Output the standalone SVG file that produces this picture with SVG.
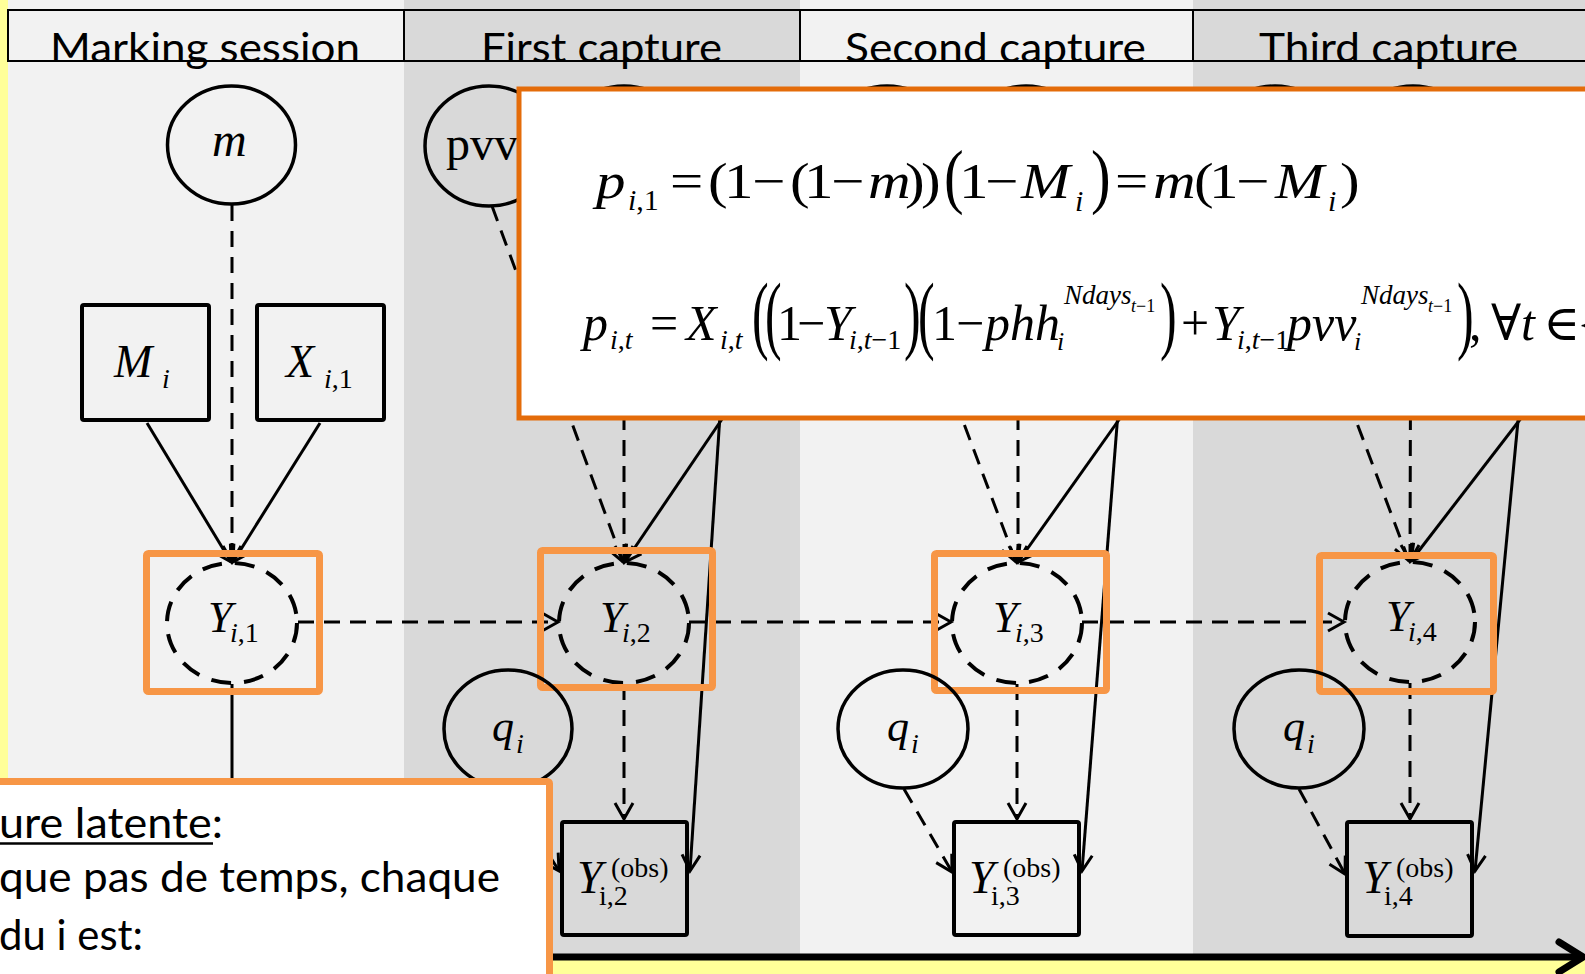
<svg xmlns="http://www.w3.org/2000/svg" width="1585" height="974" viewBox="0 0 1585 974">
  <defs>
    <style>
      .bgl { fill: #f2f2f2; }
      .bgd { fill: #d9d9d9; }
      .hdr { font-family: Lato, "Liberation Sans", sans-serif; font-size: 40px; fill: #000; }
      .body { font-family: Lato, "Liberation Sans", sans-serif; font-size: 43px; fill: #000; }
      .math { font-family: "Liberation Serif", "DejaVu Serif", serif; fill: #000; }
      .it { font-style: italic; }
      .node { fill: none; stroke: #000; stroke-width: 3.5; }
      .lat { fill: none; stroke: #000; stroke-width: 4; stroke-dasharray: 20 13; }
      .box { fill: none; stroke: #000; stroke-width: 4; }
      .hl { fill: none; stroke: #f79646; stroke-width: 7; }
      .solid { fill: none; stroke: #000; stroke-width: 3; }
      .dash { fill: none; stroke: #000; stroke-width: 3; stroke-dasharray: 16 10; }
    </style>
    <marker id="arr" viewBox="-20 -12 24 24" refX="0" refY="0" markerWidth="24" markerHeight="24" markerUnits="userSpaceOnUse" orient="auto">
      <path d="M-16,-9 L0,0 L-16,9" fill="none" stroke="#000" stroke-width="3"/>
    </marker>
  </defs>

  <!-- page and time columns -->
  <rect x="0" y="0" width="1585" height="974" fill="#ffff99"/>
  <rect class="bgl" x="8" y="0" width="396" height="957"/>
  <rect class="bgd" x="404" y="0" width="396" height="957"/>
  <rect class="bgl" x="800" y="0" width="393" height="957"/>
  <rect class="bgd" x="1193" y="0" width="392" height="957"/>

  <!-- column headers -->
  <g id="headers">
    <rect x="8" y="10" width="1590" height="51" fill="none" stroke="#000" stroke-width="2"/>
    <line x1="404" y1="10" x2="404" y2="61" stroke="#000" stroke-width="2"/>
    <line x1="800" y1="10" x2="800" y2="61" stroke="#000" stroke-width="2"/>
    <line x1="1193" y1="10" x2="1193" y2="61" stroke="#000" stroke-width="2"/>
    <text class="hdr" x="50" y="62" textLength="310" lengthAdjust="spacingAndGlyphs">Marking session</text>
    <text class="hdr" x="481" y="62" textLength="241" lengthAdjust="spacingAndGlyphs">First capture</text>
    <text class="hdr" x="845" y="62" textLength="301" lengthAdjust="spacingAndGlyphs">Second capture</text>
    <text class="hdr" x="1259" y="62" textLength="259" lengthAdjust="spacingAndGlyphs">Third capture</text>
  </g>

  <!-- connectors -->
  <g id="connectors">
    <!-- marking session -->
    <line class="dash" x1="232" y1="205" x2="232" y2="562" marker-end="url(#arr)"/>
    <line class="solid" x1="147" y1="423" x2="231" y2="562" marker-end="url(#arr)"/>
    <line class="solid" x1="320" y1="423" x2="233" y2="562" marker-end="url(#arr)"/>
    <line class="solid" x1="232" y1="684" x2="232" y2="790"/>
    <line class="dash" x1="298" y1="622" x2="558" y2="622" marker-end="url(#arr)"/>
    <!-- first capture -->
    <line class="dash" x1="492" y1="206" x2="623" y2="562" marker-end="url(#arr)"/>
    <line class="dash" x1="624" y1="206" x2="624" y2="562" marker-end="url(#arr)"/>
    <line class="solid" x1="735" y1="400" x2="625" y2="562" marker-end="url(#arr)"/>
    <line class="solid" x1="721" y1="400" x2="690" y2="871" marker-end="url(#arr)"/>
    <line class="dash" x1="624" y1="684" x2="624" y2="819" marker-end="url(#arr)"/>
    <line class="dash" x1="508" y1="789" x2="559" y2="871" marker-end="url(#arr)"/>
    <line class="dash" x1="689" y1="622" x2="951" y2="622" marker-end="url(#arr)"/>
    <!-- second capture -->
    <line class="dash" x1="882" y1="206" x2="1016" y2="562" marker-end="url(#arr)"/>
    <line class="dash" x1="1018" y1="206" x2="1018" y2="562" marker-end="url(#arr)"/>
    <line class="solid" x1="1133" y1="400" x2="1018" y2="562" marker-end="url(#arr)"/>
    <line class="solid" x1="1119" y1="400" x2="1082" y2="871" marker-end="url(#arr)"/>
    <line class="dash" x1="1017" y1="684" x2="1017" y2="819" marker-end="url(#arr)"/>
    <line class="dash" x1="904" y1="789" x2="952" y2="872" marker-end="url(#arr)"/>
    <line class="dash" x1="1082" y1="622" x2="1344" y2="622" marker-end="url(#arr)"/>
    <!-- third capture -->
    <line class="dash" x1="1275" y1="206" x2="1409" y2="561" marker-end="url(#arr)"/>
    <line class="dash" x1="1411" y1="206" x2="1410" y2="561" marker-end="url(#arr)"/>
    <line class="solid" x1="1535" y1="400" x2="1411" y2="561" marker-end="url(#arr)"/>
    <line class="solid" x1="1520" y1="400" x2="1475" y2="871" marker-end="url(#arr)"/>
    <line class="dash" x1="1410" y1="683" x2="1410" y2="819" marker-end="url(#arr)"/>
    <line class="dash" x1="1299" y1="789" x2="1345" y2="874" marker-end="url(#arr)"/>
    <!-- time axis -->
    <line x1="540" y1="957" x2="1580" y2="957" stroke="#000" stroke-width="7"/>
    <path d="M1559,942 L1583,957 L1559,972" fill="none" stroke="#000" stroke-width="7" stroke-linecap="round"/>
  </g>

  <!-- marking session nodes -->
  <g id="node-m">
    <ellipse class="node" cx="231.5" cy="145" rx="64" ry="59"/>
    <text class="math it" x="212" y="156" font-size="48">m</text>
  </g>
  <g id="node-Mi">
    <rect class="box" x="82" y="305" width="127" height="115" rx="2"/>
    <text class="math" font-size="46"><tspan class="it" x="114" y="377">M</tspan><tspan class="it" x="162" y="388" font-size="28">i</tspan></text>
  </g>
  <g id="node-Xi1">
    <rect class="box" x="257" y="305" width="127" height="115" rx="2"/>
    <text class="math" font-size="46"><tspan class="it" x="286" y="377">X</tspan><tspan x="324" y="388" font-size="28"><tspan class="it">i</tspan>,1</tspan></text>
  </g>

  <!-- detection probability parameters -->
  <g id="node-pvv2">
    <ellipse class="node" cx="489" cy="146" rx="64" ry="60"/>
    <text class="math" x="446" y="160" font-size="48">pvv</text>
  </g>
  <g id="node-par2"><ellipse class="node" cx="624" cy="146" rx="64" ry="60"/></g>
  <g id="node-pvv3"><ellipse class="node" cx="887" cy="146" rx="64" ry="60"/></g>
  <g id="node-par3"><ellipse class="node" cx="1026" cy="146" rx="64" ry="60"/></g>
  <g id="node-pvv4"><ellipse class="node" cx="1275" cy="146" rx="64" ry="60"/></g>
  <g id="node-par4"><ellipse class="node" cx="1413" cy="146" rx="64" ry="60"/></g>

  <!-- latent states -->
  <g id="node-Y1">
    <ellipse class="lat" cx="232" cy="623" rx="65" ry="60"/>
    <text class="math" font-size="44"><tspan class="it" x="208" y="632">Y</tspan><tspan x="230" y="642" font-size="28"><tspan class="it">i</tspan>,1</tspan></text>
    <rect class="hl" x="146.5" y="553.5" width="173" height="138" rx="2"/>
  </g>
  <g id="node-Y2">
    <ellipse class="lat" cx="624" cy="623" rx="65" ry="60"/>
    <text class="math" font-size="44"><tspan class="it" x="600" y="632">Y</tspan><tspan x="622" y="642" font-size="28"><tspan class="it">i</tspan>,2</tspan></text>
    <rect class="hl" x="540.5" y="550.5" width="172" height="137" rx="2"/>
  </g>
  <g id="node-Y3">
    <ellipse class="lat" cx="1017" cy="623" rx="65" ry="60"/>
    <text class="math" font-size="44"><tspan class="it" x="993" y="632">Y</tspan><tspan x="1015" y="642" font-size="28"><tspan class="it">i</tspan>,3</tspan></text>
    <rect class="hl" x="934.5" y="553.5" width="172" height="137" rx="2"/>
  </g>
  <g id="node-Y4">
    <ellipse class="lat" cx="1410" cy="622" rx="65" ry="60"/>
    <text class="math" font-size="44"><tspan class="it" x="1386" y="631">Y</tspan><tspan x="1408" y="641" font-size="28"><tspan class="it">i</tspan>,4</tspan></text>
    <rect class="hl" x="1319.5" y="555.5" width="174" height="136" rx="2"/>
  </g>

  <!-- observation noise -->
  <g id="node-q2">
    <ellipse class="node" cx="508" cy="729" rx="64" ry="59"/>
    <text class="math" font-size="44"><tspan class="it" x="492" y="741">q</tspan><tspan class="it" x="516" y="753" font-size="28">i</tspan></text>
  </g>
  <g id="node-q3">
    <ellipse class="node" cx="903" cy="729" rx="65" ry="59"/>
    <text class="math" font-size="44"><tspan class="it" x="887" y="741">q</tspan><tspan class="it" x="911" y="753" font-size="28">i</tspan></text>
  </g>
  <g id="node-q4">
    <ellipse class="node" cx="1299" cy="729" rx="65" ry="59"/>
    <text class="math" font-size="44"><tspan class="it" x="1283" y="741">q</tspan><tspan class="it" x="1307" y="753" font-size="28">i</tspan></text>
  </g>

  <!-- observations -->
  <g id="node-Yobs2">
    <rect class="box" x="562" y="822" width="125" height="113" rx="2"/>
    <text class="math" font-size="46"><tspan class="it" x="577" y="893">Y</tspan><tspan x="611" y="877" font-size="28">(obs)</tspan><tspan x="599" y="905" font-size="28">i,2</tspan></text>
  </g>
  <g id="node-Yobs3">
    <rect class="box" x="954" y="822" width="125" height="113" rx="2"/>
    <text class="math" font-size="46"><tspan class="it" x="969" y="893">Y</tspan><tspan x="1003" y="877" font-size="28">(obs)</tspan><tspan x="991" y="905" font-size="28">i,3</tspan></text>
  </g>
  <g id="node-Yobs4">
    <rect class="box" x="1347" y="822" width="125" height="114" rx="2"/>
    <text class="math" font-size="46"><tspan class="it" x="1362" y="893">Y</tspan><tspan x="1396" y="877" font-size="28">(obs)</tspan><tspan x="1384" y="905" font-size="28">i,4</tspan></text>
  </g>

  <!-- detection probability formulas -->
  <g id="panel-eq">
    <rect x="519" y="89" width="1100" height="329" fill="#fff" stroke="#e46c0a" stroke-width="5"/>
    <!-- first capture: full-size symbols are set slightly wide, as in the equation editor -->
    <text class="math" font-size="50" transform="scale(1.18,1)">
      <tspan class="it" x="505.1" y="198">p</tspan>
      <tspan x="567.8" y="198">=</tspan>
      <tspan x="600" y="198">(</tspan><tspan x="613.6" y="198">1</tspan><tspan x="637.3" y="198">−</tspan>
      <tspan x="669.5" y="198">(</tspan><tspan x="681.4" y="198">1</tspan><tspan x="704.2" y="198">−</tspan>
      <tspan class="it" x="735.6" y="198">m</tspan><tspan x="766.9" y="198">)</tspan><tspan x="780.5" y="198">)</tspan>
      <tspan x="812.7" y="198">1</tspan><tspan x="834.7" y="198">−</tspan>
      <tspan class="it" x="865.3" y="198">M</tspan>
      <tspan x="944.9" y="198">=</tspan>
      <tspan class="it" x="977.1" y="198">m</tspan><tspan x="1011.9" y="198">(</tspan><tspan x="1024.6" y="198">1</tspan><tspan x="1047.5" y="198">−</tspan>
      <tspan class="it" x="1080.5" y="198">M</tspan><tspan x="1135.6" y="198">)</tspan>
    </text>
    <text class="math" font-size="30">
      <tspan x="628" y="210"><tspan class="it">i</tspan>,1</tspan>
      <tspan class="it" x="1075" y="211">i</tspan>
      <tspan class="it" x="1328" y="211">i</tspan>
    </text>
    <text class="math" font-size="50" transform="translate(944,200) scale(1.18,1.45)">(</text>
    <text class="math" font-size="50" transform="translate(1091,200) scale(1.18,1.45)">)</text>

    <!-- later captures -->
    <text class="math" font-size="50">
      <tspan class="it" x="583" y="340">p</tspan>
      <tspan x="610" y="349" font-size="28"><tspan class="it">i</tspan>,<tspan class="it">t</tspan></tspan>
      <tspan x="650" y="340">=</tspan>
      <tspan class="it" x="686" y="340">X</tspan>
      <tspan x="720" y="349" font-size="28"><tspan class="it">i</tspan>,<tspan class="it">t</tspan></tspan>
      <tspan x="777" y="340">1</tspan><tspan x="797" y="340">−</tspan>
      <tspan class="it" x="824" y="340">Y</tspan>
      <tspan x="849" y="349" font-size="28"><tspan class="it">i</tspan>,<tspan class="it">t</tspan>−1</tspan>
      <tspan x="932" y="340">1</tspan><tspan x="956" y="340">−</tspan>
      <tspan class="it" x="985" y="340">phh</tspan>
      <tspan class="it" x="1057" y="350" font-size="26">i</tspan>
      <tspan class="it" x="1064" y="304" font-size="27">Ndays</tspan>
      <tspan x="1131" y="312" font-size="18"><tspan class="it">t</tspan>−1</tspan>
      <tspan x="1181" y="340">+</tspan>
      <tspan class="it" x="1212" y="340">Y</tspan>
      <tspan x="1237" y="349" font-size="28"><tspan class="it">i</tspan>,<tspan class="it">t</tspan>−1</tspan>
      <tspan class="it" x="1287" y="340">pvv</tspan>
      <tspan class="it" x="1354" y="350" font-size="26">i</tspan>
      <tspan class="it" x="1361" y="304" font-size="27">Ndays</tspan>
      <tspan x="1428" y="312" font-size="18"><tspan class="it">t</tspan>−1</tspan>
      <tspan x="1469" y="340">,</tspan>
      <tspan x="1491" y="340">∀</tspan><tspan class="it" x="1521" y="340">t</tspan><tspan x="1543" y="340">∈</tspan><tspan x="1577" y="340">{</tspan>
    </text>
    <text class="math" font-size="50" transform="translate(752,343) scale(1,1.72)">(</text>
    <text class="math" font-size="50" transform="translate(765,343) scale(1,1.72)">(</text>
    <text class="math" font-size="50" transform="translate(904,343) scale(1,1.72)">)</text>
    <text class="math" font-size="50" transform="translate(918,343) scale(1,1.72)">(</text>
    <text class="math" font-size="50" transform="translate(1160,343) scale(1,1.72)">)</text>
    <text class="math" font-size="50" transform="translate(1457,343) scale(1,1.72)">)</text>
  </g>

  <!-- latent structure note -->
  <g id="panel-note">
    <rect x="-20" y="781.5" width="569.5" height="230" fill="#fff" stroke="#f79646" stroke-width="7" rx="2"/>
    <text class="body" x="-1" y="838" textLength="224" lengthAdjust="spacingAndGlyphs">ure latente:</text>
    <line x1="0" y1="843.5" x2="213" y2="843.5" stroke="#000" stroke-width="2.5"/>
    <text class="body" x="-1" y="892" textLength="501" lengthAdjust="spacingAndGlyphs">que pas de temps, chaque</text>
    <text class="body" x="-1" y="950" textLength="144" lengthAdjust="spacingAndGlyphs">du i est:</text>
  </g>
</svg>
